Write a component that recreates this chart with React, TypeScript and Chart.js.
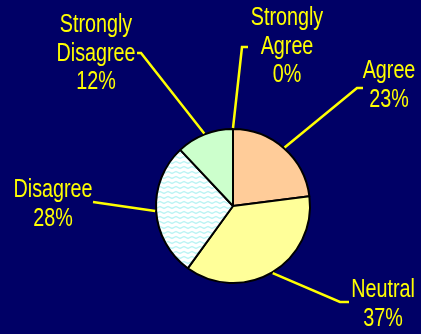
import React, { useEffect, useRef } from 'react';
import { Chart, registerables } from 'chart.js';

Chart.register(...registerables);

const categories = ['Strongly Agree', 'Agree', 'Neutral', 'Disagree', 'Strongly Disagree'];
const labelLines = [['Strongly', 'Agree'], ['Agree'], ['Neutral'], ['Disagree'], ['Strongly', 'Disagree']];
const percentages = [0, 23, 37, 28, 12];
const sliceColors = ['#FFCC99', '#FFCC99', '#FFFF99', 'PATTERN', '#CCFFCC'];

// label layout offsets relative to pie centre: text centre x / first baseline y, leader end, leader elbow
const labelLayout = [
  { tx: 54, ty: -181, ex: 15, ey: -159, bx: 9, by: -159 },
  { tx: 156, ty: -128, ex: 130, ey: -118, bx: 124, by: -118 },
  { tx: 150, ty: 91, ex: 116, ey: 96, bx: 107, by: 96 },
  { tx: -180, ty: -9, ex: -140, ey: -4, bx: -140, by: -4 },
  { tx: -137, ty: -174, ex: -96, ey: -153, bx: -92, by: -153 },
];
const LINE_GAP = 28.5;
const TEXT_SCALE_X = 0.79;

function makeWavePattern(ctx: CanvasRenderingContext2D): CanvasPattern | string {
  const c = document.createElement('canvas');
  c.width = 8;
  c.height = 5;
  const p = c.getContext('2d')!;
  p.fillStyle = '#FFFFFF';
  p.fillRect(0, 0, 8, 5);
  p.strokeStyle = '#BDF4F4';
  p.lineWidth = 1.5;
  p.beginPath();
  p.moveTo(-2, 3.5);
  p.lineTo(0, 1.5);
  p.lineTo(4, 3.5);
  p.lineTo(8, 1.5);
  p.lineTo(12, 3.5);
  p.stroke();
  return ctx.createPattern(c, 'repeat') || '#E6FFFF';
}

const labelPlugin = {
  id: 'leaderLabels',
  afterDatasetsDraw(chart: any) {
    const ctx = chart.ctx as CanvasRenderingContext2D;
    const meta = chart.getDatasetMeta(0);
    ctx.save();
    meta.data.forEach((arc: any, i: number) => {
      const { x, y, startAngle, endAngle, outerRadius } = arc.getProps(['x', 'y', 'startAngle', 'endAngle', 'outerRadius'], true);
      const mid = (startAngle + endAngle) / 2;
      const px = x + Math.cos(mid) * (outerRadius + 1);
      const py = y + Math.sin(mid) * (outerRadius + 1);
      const L = labelLayout[i];
      ctx.strokeStyle = '#FFFF00';
      ctx.lineWidth = 2.5;
      ctx.lineJoin = 'miter';
      ctx.beginPath();
      ctx.moveTo(px, py);
      ctx.lineTo(x + L.bx, y + L.by);
      ctx.lineTo(x + L.ex, y + L.ey);
      ctx.stroke();
      ctx.fillStyle = '#FFFF00';
      ctx.font = '25px "Liberation Sans", Arial, sans-serif';
      ctx.textAlign = 'center';
      ctx.textBaseline = 'alphabetic';
      const lines = [...labelLines[i], percentages[i] + '%'];
      lines.forEach((t, k) => {
        ctx.save();
        ctx.translate(x + L.tx, y + L.ty + k * LINE_GAP);
        ctx.scale(TEXT_SCALE_X, 1);
        ctx.fillText(t, 0, 0);
        ctx.restore();
      });
    });
    ctx.restore();
  },
};

export default function App() {
  const ref = useRef<HTMLCanvasElement | null>(null);
  useEffect(() => {
    const canvas = ref.current!;
    const ctx = canvas.getContext('2d')!;
    const pattern = makeWavePattern(ctx);
    const colors = sliceColors.map((c) => (c === 'PATTERN' ? pattern : c));
    const chart = new Chart(canvas, {
      type: 'pie',
      data: {
        labels: categories,
        datasets: [
          {
            data: percentages,
            backgroundColor: colors as any,
            borderColor: '#000000',
            borderWidth: 2,
          },
        ],
      },
      options: {
        animation: false,
        responsive: false,
        maintainAspectRatio: false,
        layout: { padding: { left: 155, right: 110, top: 128, bottom: 50 } },
        plugins: { legend: { display: false }, tooltip: { enabled: false } },
      },
      plugins: [labelPlugin],
    });
    return () => chart.destroy();
  }, []);
  return (
    <div style={{ position: 'fixed', left: 0, top: 0, width: 421, height: 334, background: '#000066' }}>
      <canvas ref={ref} width={421} height={334} style={{ display: 'block', width: 421, height: 334 }} />
    </div>
  );
}
